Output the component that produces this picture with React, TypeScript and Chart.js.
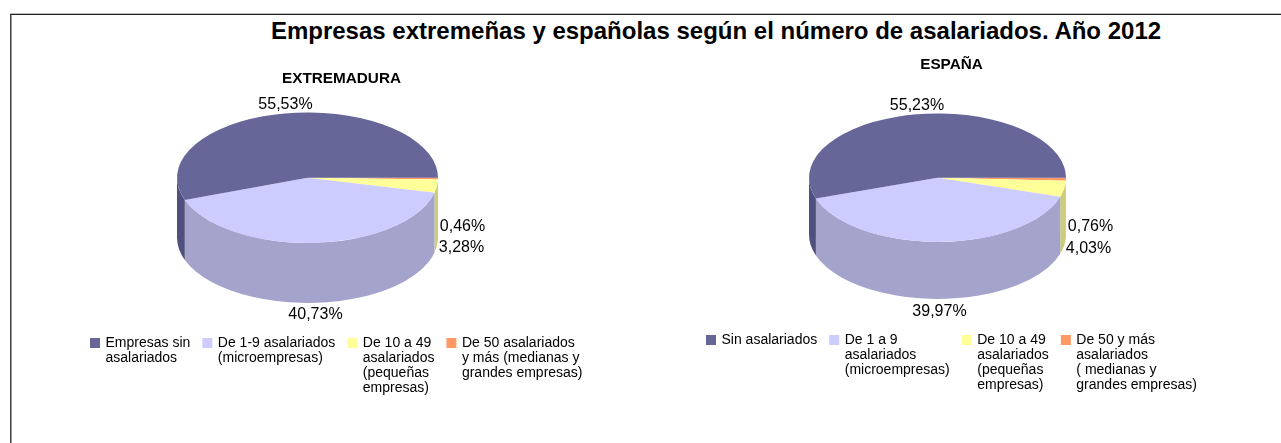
import React, { useEffect, useRef } from "react";
import { Chart, registerables } from "chart.js";

Chart.register(...registerables);

const FONT = "'Liberation Sans', Arial, sans-serif";
const MAIN_TITLE = "Empresas extremeñas y españolas según el número de asalariados. Año 2012";

// Pie order runs clockwise from 3 o'clock; the legend lists it in reverse.
const extremaduraTitle = "EXTREMADURA";
const extremaduraValues = [0.46, 3.28, 40.73, 55.53];
const extremaduraLabels = [
  ["De 50 asalariados", "y más (medianas y", "grandes empresas)"],
  ["De 10 a 49", "asalariados", "(pequeñas", "empresas)"],
  ["De 1-9 asalariados", "(microempresas)"],
  ["Empresas sin", "asalariados"],
];
const espanaTitle = "ESPAÑA";
const espanaValues = [0.76, 4.03, 39.97, 55.23];
const espanaLabels = [
  ["De 50 y más", "asalariados", "( medianas y", "grandes empresas)"],
  ["De 10 a 49", "asalariados", "(pequeñas", "empresas)"],
  ["De 1 a 9", "asalariados", "(microempresas)"],
  ["Sin asalariados"],
];
const topColors = ["#FF9966", "#FFFF99", "#CCCCFF", "#666699"];
const sideColors = ["#CC7A52", "#CCCC7A", "#A3A3CC", "#50507F"];

const SQUASH = 0.5;

const pie3d = {
  id: "pie3d",
  afterLayout(chart: any, _a: any, o: any) {
    chart.titleBlock.left += o.titleShift;
    chart.titleBlock.right += o.titleShift;
  },
  beforeDatasetsDraw(chart: any, _a: any, o: any) {
    const { ctx } = chart;
    const arcs = chart.getDatasetMeta(0).data;
    const { x: cx, y: cy, outerRadius: r } = arcs[0].getProps(["x", "y", "outerRadius"]);
    const k = o.squash;
    const ry = r * k;
    ctx.save();
    arcs.forEach((arc: any, i: number) => {
      const p = arc.getProps(["startAngle", "endAngle"]);
      const a1 = Math.max(p.startAngle, 0);
      const a2 = Math.min(p.endAngle, Math.PI);
      if (a2 <= a1) return;
      ctx.beginPath();
      ctx.ellipse(cx, cy, r, ry, 0, a1, a2, false);
      ctx.ellipse(cx, cy + o.depth, r, ry, 0, a2, a1, true);
      ctx.closePath();
      ctx.fillStyle = sideColors[i];
      ctx.fill();
    });
    ctx.restore();
    ctx.save();
    ctx.translate(cx, cy);
    ctx.scale(1, k);
    ctx.translate(-cx, -cy);
  },
  afterDatasetsDraw(chart: any, _a: any, o: any) {
    const { ctx } = chart;
    ctx.restore();
    const arcs = chart.getDatasetMeta(0).data;
    const { x: cx, y: cy } = arcs[0].getProps(["x", "y"]);
    ctx.save();
    ctx.font = `${o.labelSize}px ${FONT}`;
    ctx.fillStyle = "#000";
    ctx.textAlign = "center";
    ctx.textBaseline = "middle";
    chart.data.datasets[0].data.forEach((v: number, i: number) => {
      const [dx, dy] = o.labelOffsets[i];
      ctx.fillText(v.toFixed(2).replace(".", ",") + "%", cx + dx, cy + dy);
    });

    // Legend: reversed slice order, columns as wide as their longest line.
    ctx.font = `${o.legendSize}px ${FONT}`;
    ctx.textAlign = "left";
    let x = o.legendX;
    const labels: string[][] = chart.data.labels;
    for (let i = labels.length - 1; i >= 0; i--) {
      ctx.fillStyle = topColors[i];
      ctx.fillRect(x, o.legendY - 5, 10, 10);
      ctx.fillStyle = "#000";
      let w = 0;
      labels[i].forEach((line, n) => {
        ctx.fillText(line, x + 15.5, o.legendY + n * 15);
        w = Math.max(w, ctx.measureText(line).width);
      });
      x += 15.5 + w + o.legendPad;
    }
    ctx.restore();
  },
};

type PieProps = {
  left: number;
  title: string;
  values: number[];
  labels: string[][];
  radius: number;
  depth: number;
  padBottom: number;
  titleTop: number;
  titleShift: number;
  labelOffsets: number[][];
  legendX: number;
  legendY: number;
};

function Pie3D(props: PieProps) {
  const ref = useRef<HTMLCanvasElement>(null);
  useEffect(() => {
    const chart = new Chart(ref.current as HTMLCanvasElement, {
      type: "pie",
      plugins: [pie3d],
      data: {
        labels: props.labels as any,
        datasets: [{ data: props.values, backgroundColor: topColors, borderWidth: 0 }],
      },
      options: {
        responsive: false,
        animation: false,
        rotation: 90,
        radius: props.radius,
        layout: { padding: { bottom: props.padBottom } },
        plugins: {
          tooltip: { enabled: false },
          legend: { display: false },
          title: {
            display: true,
            text: props.title,
            color: "#000",
            font: { family: FONT, size: 15.3, weight: "bold" },
            padding: { top: props.titleTop, bottom: 0 },
          },
          pie3d: {
            squash: SQUASH,
            depth: props.depth,
            labelSize: 16,
            labelOffsets: props.labelOffsets,
            titleShift: props.titleShift,
            legendSize: 14,
            legendX: props.legendX,
            legendY: props.legendY,
            legendPad: 12,
          },
        } as any,
      },
    } as any);
    return () => chart.destroy();
  }, []);
  return (
    <canvas
      ref={ref}
      width={575}
      height={390}
      style={{ position: "absolute", left: props.left, top: 50, width: 575, height: 390, display: "block" }}
    />
  );
}

export default function App() {
  return (
    <div style={{ position: "absolute", left: 0, top: 0, width: 1281, height: 443, overflow: "hidden", background: "#fff" }}>
      <div style={{ position: "absolute", left: 10, top: 13, width: 1271, height: 1, background: "#bbb" }} />
      <div style={{ position: "absolute", left: 10, top: 14, width: 1271, height: 1, background: "#222" }} />
      <div style={{ position: "absolute", left: 10, top: 14, width: 1, height: 429, background: "#444" }} />
      <div style={{ position: "absolute", left: 11, top: 15, width: 1, height: 428, background: "#999" }} />
      <div
        style={{
          position: "absolute",
          left: 0,
          width: 1432,
          top: 17,
          textAlign: "center",
          font: `bold 24px ${FONT}`,
          color: "#000",
          whiteSpace: "nowrap",
        }}
      >
        {MAIN_TITLE}
      </div>
      <Pie3D
        left={20}
        title={extremaduraTitle}
        values={extremaduraValues}
        labels={extremaduraLabels}
        radius={130.5}
        depth={60}
        padBottom={173}
        titleTop={20}
        titleShift={34}
        labelOffsets={[[155, 49], [154, 70], [8, 137], [-22, -73]]}
        legendX={70}
        legendY={293}
      />
      <Pie3D
        left={650}
        title={espanaTitle}
        values={espanaValues}
        labels={espanaLabels}
        radius={128.5}
        depth={57}
        padBottom={159}
        titleTop={6}
        titleShift={14}
        labelOffsets={[[153, 49], [151, 71], [2, 134], [-20.5, -72]]}
        legendX={56}
        legendY={290}
      />
    </div>
  );
}
